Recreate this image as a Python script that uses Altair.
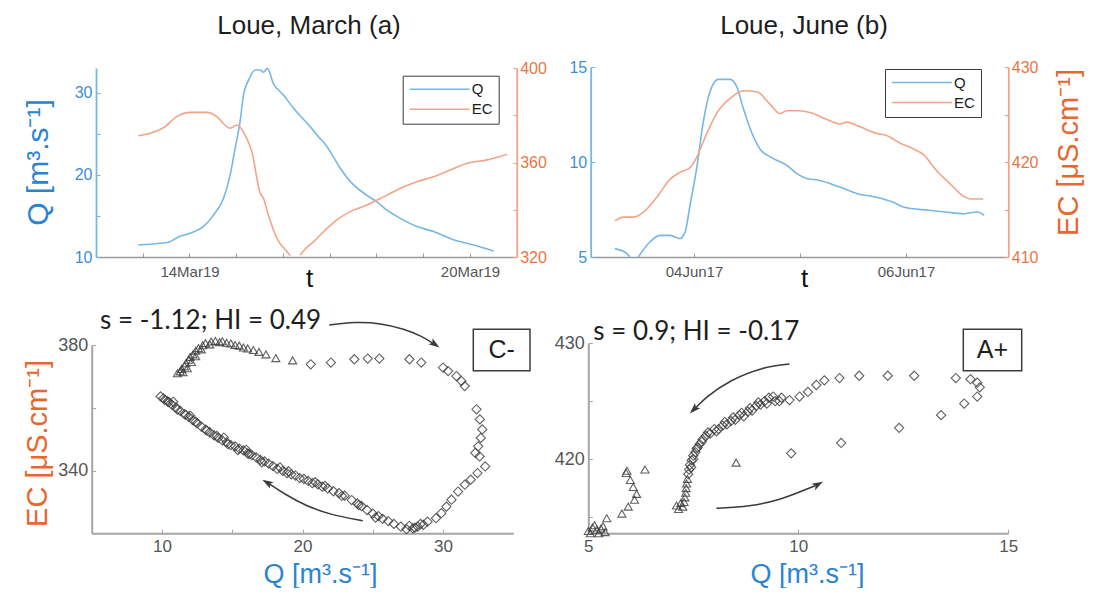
import altair as alt
import pandas as pd

# ------------------------------------------------------------------ texts
panel_titles = ["Loue, March (a)", "Loue, June (b)"]
series_names = ["Q", "EC"]
hyst_stats = ["s = -1.12; HI = 0.49", "s = 0.9; HI = -0.17"]
hyst_class = ["C-", "A+"]
q_title = "Q [m³.s⁻¹]"
ec_title = "EC [μS.cm⁻¹]"
t_title = "t"

# ------------------------------------------------------------------ March time series (hours after 12 Mar 2019 00:00)
mar_start = "2019-03-12 00:00"
mar_q_hours = [21.7, 32.9, 38.0, 41.5, 48.3, 55.1, 60.3, 65.4, 68.9, 71.4, 74.0, 75.7, 78.3, 81.7, 84.3, 86.0,
               88.0, 91.1, 96.3, 101.4, 104.8, 110.0, 115.1, 116.8, 120.3, 125.4, 130.5, 139.1, 144.3, 149.4,
               156.3, 164.8, 173.3, 183.6, 193.9, 204.2]
mar_q = [11.46, 11.67, 11.86, 12.35, 12.9, 13.7, 15.1, 17.1, 20.0, 23.2, 26.5, 29.7, 31.5, 32.75, 32.75, 32.5,
         32.95, 31.1, 29.7, 28.1, 27.2, 25.85, 24.4, 24.0, 22.8, 20.8, 19.2, 17.5, 16.7, 15.7,
         14.7, 13.7, 13.1, 12.1, 11.46, 10.73]
mar_ec_hours = [21.7, 27.8, 34.6, 41.5, 48.3, 56.9, 62.0, 67.2, 68.9, 72.3, 77.4, 80.0, 84.3, 86.0, 88.5, 92.9,
                98.0, 99.7,
                104.8, 107.5, 111.7, 118.6, 123.7, 130.5, 139.1, 149.4, 156.3, 164.8, 173.3, 181.9, 190.5,
                200.8, 211.1]
mar_ec = [371.3, 372.4, 374.7, 379.4, 381.2, 381.2, 379.4, 375.2, 374.5, 375.9, 370.2, 364.6, 347.0, 344.8,
          337.8, 327.9, 322.3, 320.6,
          320.8, 323.5, 326.5, 332.1, 335.7, 339.2, 342.0, 346.2, 349.1, 351.9, 354.0, 356.8, 359.7, 361.1, 363.5]
mar_ec_part = [1] * 18 + [2] * 15

# ------------------------------------------------------------------ June time series (hours after 3 Jun 2017 00:00)
jun_start = "2017-06-03 00:00"
jun_q_hours = [6.1, 8.8, 9.5, 11.4, 14.0, 16.3, 18.6, 20.8, 22.0, 23.1, 24.6, 26.1, 27.6, 29.5, 32.2, 33.7,
               35.2, 36.7, 38.9, 42.0, 45.0, 47.3, 49.5, 52.2, 57.0, 61.0, 65.0, 69.0, 71.4, 77.0, 80.9, 85.0,
               88.2, 89.7]
jun_q = [5.44, 5.18, 5.0, 5.0, 5.79, 6.14, 6.14, 5.97, 6.32, 7.72, 9.65, 12.1, 13.68, 14.35, 14.35, 13.95,
         12.8, 11.76, 10.7, 10.18, 9.83, 9.39, 9.13, 9.04, 8.68, 8.33, 8.16, 7.89, 7.63, 7.46, 7.37, 7.28,
         7.37, 7.19]
jun_q_part = [1] * 3 + [2] * 31
jun_ec_hours = [6.1, 8.0, 10.3, 12.5, 15.6, 18.6, 20.8, 23.1, 24.6, 26.9, 29.1, 32.2, 35.2, 38.2, 41.2, 43.5,
                45.0, 48.0, 50.3, 54.0, 57.0, 58.6, 61.6, 65.4, 67.6, 70.6, 73.6, 75.9, 78.9, 82.0, 85.0,
                86.5, 89.5]
jun_ec = [413.8, 414.2, 414.2, 414.7, 416.3, 418.2, 418.9, 419.4, 420.5, 423.0, 425.1, 426.7, 427.5, 427.4,
          426.1, 425.1, 425.4, 425.4, 425.2, 424.5, 424.0, 424.2, 423.7, 423.0, 422.8, 422.0, 421.4, 420.8,
          419.1, 417.7, 416.4, 416.1, 416.1]

# ------------------------------------------------------------------ March hysteresis (EC vs Q)
mar_tri_q = [11.1, 11.3, 11.5, 11.4, 11.6, 11.8, 11.7, 11.9, 12.1, 12.0, 12.2, 12.4, 12.4, 12.6, 12.8, 12.9,
             13.1, 13.4, 13.5, 13.8, 14.1, 14.3, 14.6, 14.9, 15.2, 15.5, 15.8, 16.1, 16.5, 16.9, 17.4, 18.1,
             19.3]
mar_tri_ec = [371.0, 371.6, 371.3, 372.4, 373.2, 372.6, 374.2, 375.3, 374.6, 376.2, 377.0, 376.4, 378.2,
              379.0, 378.6, 379.9, 380.6, 380.2, 381.1, 381.3, 380.9, 381.2, 380.7, 380.5, 380.0, 379.8, 379.2,
              378.9, 378.4, 377.8, 377.0, 375.8, 375.1]
mar_dia_q = [20.59, 22.02, 23.69, 24.64, 25.47, 27.61, 28.45, 30.0, 30.36, 30.95, 31.31, 31.54,
             32.38, 32.62, 32.79, 32.69, 32.5, 32.3, 32.6, 33.0, 32.45, 31.97, 31.55, 31.07, 30.6, 30.24,
             29.88, 29.5, 28.9, 28.6, 28.2, 27.86, 27.4, 27.0, 28.0, 27.6, 28.4,
             26.5, 26.1, 25.7, 25.4, 25.0, 24.6, 24.2, 23.9, 23.5, 23.0, 22.6, 22.2, 21.8, 21.4, 21.1, 20.7,
             20.4, 20.1, 19.8, 19.5, 19.2, 18.9, 18.6, 18.2, 17.9, 17.6, 17.3, 17.0, 16.7, 16.4, 16.1, 15.8,
             15.5, 15.2, 14.9, 14.6, 14.3, 14.0, 13.7, 13.4, 13.1, 12.8, 12.5, 12.2, 11.9, 11.6, 11.3, 11.0,
             10.7, 10.4, 10.1, 9.9,
             25.2, 24.0, 22.8, 21.6, 20.9, 19.0, 18.4, 17.1, 16.2, 15.4, 14.7, 13.9, 13.2, 12.4, 11.7, 11.1,
             10.5, 10.2, 14.4, 16.0, 12.0, 10.8]
mar_dia_ec = [373.86, 374.4, 375.46, 375.68, 375.68, 375.46, 374.4, 372.8, 371.7, 370.1, 368.5, 366.9,
              359.5, 356.3, 353.1, 350.4, 347.7, 345.6, 344.5, 341.3, 339.2, 337.1, 335.5, 333.3, 330.7, 328.5,
              326.4, 324.8, 323.7, 322.7, 322.1, 321.6, 321.3, 322.1, 321.8, 322.4, 323.0,
              323.0, 323.9, 324.6, 325.5, 326.3, 327.4, 328.7, 329.5, 330.6, 332.0, 332.8, 333.4, 334.3, 334.9,
              335.6, 336.0, 336.7, 337.3, 337.6, 338.4, 338.8, 339.2, 339.9, 340.5, 341.4, 342.2, 342.9, 343.4,
              344.2, 344.9, 345.5, 346.4, 347.0, 347.7, 348.1, 349.0, 349.6, 350.4, 351.2, 352.2, 353.0, 354.0,
              355.0, 356.0, 357.1, 358.0, 359.0, 360.1, 361.0, 362.0, 363.0, 363.6,
              325.0, 329.0, 331.9, 335.1, 336.3, 339.8, 341.0, 342.6, 345.2, 346.5, 348.4, 351.0, 352.7, 355.6,
              357.7, 359.4, 361.8, 362.5, 350.5, 346.6, 357.5, 361.9]

# ------------------------------------------------------------------ June hysteresis (EC vs Q)
jun_tri_q = [5.0, 5.1, 5.05, 5.2, 5.15, 5.3, 5.25, 5.4, 5.35, 5.44, 5.8, 5.95, 6.1, 6.15, 6.07, 6.0, 5.9, 5.92,
             6.35, 8.52, 7.36, 7.34, 7.33, 7.32, 7.3, 7.28, 7.25, 7.15, 7.1, 7.2]
jun_tri_ec = [413.8, 414.1, 413.6, 413.9, 414.3, 414.0, 413.6, 413.7, 414.2, 414.9, 415.3, 415.9, 416.5, 417.0,
              417.6, 418.2, 418.8, 419.0, 419.1, 419.7, 418.3, 417.9, 417.5, 417.1, 416.7, 416.3, 415.9, 415.7,
              416.0, 416.2]
jun_dia_q = [9.83, 11.02, 12.4, 13.4, 13.95, 14.26, 14.32, 14.26, 14.1, 13.75, 12.76, 12.13, 11.45, 10.98,
             10.62, 10.43, 10.23, 10.03, 9.79, 9.6, 9.45, 9.3, 9.2, 9.1, 9.0, 8.9, 8.8, 8.7, 8.6, 8.5, 8.4, 8.3,
             8.2, 8.1, 8.0, 7.9, 7.8, 7.72, 7.65, 7.6, 7.55, 7.5, 7.46, 7.42, 7.4, 7.38,
             7.45, 7.5, 7.58, 7.7, 7.85, 8.05, 8.25, 8.45, 8.65, 8.85, 9.05, 9.25, 9.4, 9.55]
jun_dia_ec = [420.5, 421.4, 422.7, 423.8, 424.8, 425.4, 426.2, 426.6, 426.9, 427.0, 427.2, 427.2, 427.2, 427.0,
              426.8, 426.4, 425.8, 425.4, 425.1, 425.3, 425.0, 425.3, 425.0, 424.7, 424.6, 424.2, 424.1, 423.7,
              423.8, 423.4, 423.3, 423.0, 422.9, 422.6, 422.6, 422.2, 422.0, 421.7, 421.3, 421.0, 420.6, 420.3,
              419.9, 419.5, 419.1, 418.7,
              419.3, 420.0, 420.9, 421.5, 422.3, 422.4, 423.2, 423.6, 424.0, 424.4, 424.9, 424.8, 425.4, 425.0]

# ------------------------------------------------------------------ loop-direction arrows (data coordinates)
mar_arrow_id = [0, 0, 0, 0, 0, 0, 1, 1, 1, 1, 1]
mar_arrow_q = [21.90, 23.69, 25.59, 27.26, 28.45, 29.40, 24.29, 22.02, 20.24, 18.81, 17.60]
mar_arrow_ec = [386.34, 387.39, 386.98, 385.06, 382.91, 380.26, 324.03, 325.86, 328.74, 332.26, 335.90]
mar_head_q = [29.39, 17.52]
mar_head_ec = [380.3, 336.06]
mar_head_angle = [125, 300]

jun_arrow_id = [0, 0, 0, 0, 0, 1, 1, 1, 1, 1]
jun_arrow_q = [9.79, 9.16, 8.37, 7.81, 7.55, 8.05, 8.84, 9.55, 10.14, 10.40]
jun_arrow_ec = [428.21, 427.96, 426.82, 425.38, 424.40, 415.76, 415.91, 416.47, 417.33, 417.70]
jun_head_q = [7.52, 10.46]
jun_head_ec = [424.32, 417.8]
jun_head_angle = [225, 61]

# ------------------------------------------------------------------ styling / layout
Q_LINE = "#78b6e3"
EC_LINE = "#f2a488"
Q_TXT = "#3b8fd4"
EC_TXT = "#ea7644"
Q_TITLE = "#2b84cf"
EC_TITLE = "#e8672f"
AX_GRAY = "#9a9a9a"
LAB_GRAY = "#555555"
MARK_GRAY = "#3a3a3a"
ARROW = "#3a3a3a"
FONT = "Liberation Sans"
ARROW_SHAPE = "M0,-1L0.6,0.8L0,0.4L-0.6,0.8Z"

W, H = 1077, 580
TL = dict(x0=88, x1=508.7, y0=249, y1=60)
TR = dict(x0=582.7, x1=1000.3, y0=249, y1=59)
BL = dict(x0=83.7, x1=505.3, y0=525.3, y1=337)
BR = dict(x0=580.3, x1=1000.3, y0=525.3, y1=335.3)


def series_df(start, hours, values, name, part=None):
    t = pd.Timestamp(start) + pd.to_timedelta(hours, unit="h")
    d = pd.DataFrame({"t": t, "v": values, "series": name})
    d["part"] = part if part is not None else [1] * len(values)
    return d


def axis(orient, pos, **kw):
    if orient == "bottom":
        off = pos - H
    elif orient == "top":
        off = -pos
    elif orient == "left":
        off = -pos
    else:
        off = pos - W
    base = dict(orient=orient, offset=off, grid=False, labelFont=FONT, titleFont=FONT,
                titleFontWeight="normal", labelFlush=False)
    base.update(kw)
    return alt.Axis(**base)


def tick_axis(orient, pos, values, color):
    return axis(orient, pos, values=values, labels=False, domain=False, ticks=True, tickSize=4,
                tickColor=color, tickWidth=1, title=None)


def lab_expr(vals):
    return "indexof(%s, datum.value) >= 0 ? datum.label : ''" % str(vals)


def text_layer(text, x, y, size, font, color, align="center"):
    return alt.Chart(pd.DataFrame({"label": [text]})).mark_text(
        fontSize=size, font=font, color=color, align=align, baseline="middle"
    ).encode(x=alt.value(x), y=alt.value(y), text="label:N")


def box_layer(x0, x1, y0, y1):
    return alt.Chart(pd.DataFrame({"k": [0]})).mark_rect(
        fill="white", stroke="#3c3c3c", strokeWidth=1.5
    ).encode(x=alt.value(x0), x2=alt.value(x1), y=alt.value(y0), y2=alt.value(y1))


def top_panel(geo, xdom, xticks, lab_days, df_q, df_ec, qdom, qticks, qlabs, edom, eticks, elabs,
              leg_xy, t_x, q_axis_title, ec_axis_title):
    xs = alt.Scale(domain=xdom, range=[geo["x0"], geo["x1"]], nice=False)
    qs = alt.Scale(domain=qdom, range=[geo["y0"], geo["y1"]], nice=False, zero=False)
    es = alt.Scale(domain=edom, range=[geo["y0"], geo["y1"]], nice=False, zero=False)
    col = alt.Scale(domain=series_names, range=[Q_LINE, EC_LINE])
    leg = alt.Legend(orient="none", legendX=leg_xy[0], legendY=leg_xy[1], title=None, symbolType="stroke",
                     symbolSize=3600, symbolStrokeWidth=1.6, clipHeight=15, rowPadding=4, labelOffset=1,
                     labelFont=FONT, labelFontSize=15, labelColor="#1a1a1a", padding=6,
                     strokeColor="#3a3a3a", fillColor="white")
    x_lab = axis("bottom", geo["y0"], values=xticks,
                 labelExpr="indexof(%s, date(datum.value)) >= 0 ? timeFormat(datum.value, '%%d%%b%%y') : ''"
                 % str(lab_days),
                 tickSize=0, domainColor=AX_GRAY, domainWidth=1.5, labelColor=LAB_GRAY, labelFontSize=15,
                 labelPadding=7, title=t_title, titleX=t_x, titleY=21, titleFontSize=26, titleColor="#111",
                 titleBaseline="middle", titleAlign="center")
    q_kw = dict(values=qticks, labelExpr=lab_expr(qlabs), tickSize=0, domainColor=Q_LINE, domainWidth=1.8,
                labelColor=Q_TXT, labelFontSize=16, labelPadding=4)
    if q_axis_title is not None:
        q_kw.update(title=q_title, titleX=q_axis_title[0] - geo["x0"], titleY=q_axis_title[1], titleAngle=270,
                    titleFontSize=30, titleColor=Q_TITLE, titleBaseline="middle", titleAlign="center")
    else:
        q_kw.update(title=None)
    e_kw = dict(values=eticks, labelExpr=lab_expr(elabs), tickSize=0, domainColor=EC_LINE, domainWidth=1.8,
                labelColor=EC_TXT, labelFontSize=16, labelPadding=3)
    if ec_axis_title is not None:
        e_kw.update(title=ec_title, titleX=ec_axis_title[0] - geo["x1"], titleY=ec_axis_title[1],
                    titleAngle=270, titleFontSize=29, titleColor=EC_TITLE, titleBaseline="middle",
                    titleAlign="center")
    else:
        e_kw.update(title=None)

    q_line = alt.Chart(df_q).mark_line(strokeWidth=1.6, interpolate="monotone").encode(
        x=alt.X("t:T", scale=xs, axis=x_lab),
        y=alt.Y("v:Q", scale=qs, axis=axis("left", geo["x0"], **q_kw)),
        color=alt.Color("series:N", scale=col, legend=leg),
        detail="part:N")
    ec_line = alt.Chart(df_ec).mark_line(strokeWidth=1.6, interpolate="monotone").encode(
        x=alt.X("t:T", scale=xs, axis=tick_axis("top", geo["y0"], xticks, AX_GRAY)),
        y=alt.Y("v:Q", scale=es, axis=axis("right", geo["x1"], **e_kw)),
        color=alt.Color("series:N", scale=col, legend=None),
        detail="part:N")
    q_ticks = alt.Chart(df_q).mark_line(opacity=0).encode(
        x=alt.X("t:T", scale=xs, axis=None),
        y=alt.Y("v:Q", scale=qs, axis=tick_axis("right", geo["x0"], qticks, Q_LINE)))
    e_ticks = alt.Chart(df_ec).mark_line(opacity=0).encode(
        x=alt.X("t:T", scale=xs, axis=None),
        y=alt.Y("v:Q", scale=es, axis=tick_axis("left", geo["x1"], eticks, EC_LINE)))
    return [q_ticks, e_ticks, q_line, ec_line]


def bottom_panel(geo, qdom, qticks, qlabs, edom, eticks, elabs, tri, dia, arrows, heads, x_title_x,
                 y_title):
    xs = alt.Scale(domain=qdom, range=[geo["x0"], geo["x1"]], nice=False, zero=False)
    ys = alt.Scale(domain=edom, range=[geo["y0"], geo["y1"]], nice=False, zero=False)
    x_ax = axis("bottom", geo["y0"], values=qticks, labelExpr=lab_expr(qlabs), tickSize=0, domainColor="#a5a5a5",
                domainWidth=2, labelColor=LAB_GRAY, labelFontSize=17, labelPadding=5, title=q_title,
                titleX=x_title_x, titleY=41, titleFontSize=27, titleColor=Q_TITLE, titleBaseline="middle",
                titleAlign="center")
    y_kw = dict(values=eticks, labelExpr=lab_expr(elabs), tickSize=0, domainColor="#a5a5a5", domainWidth=2,
                labelColor=LAB_GRAY, labelFontSize=18, labelPadding=4)
    if y_title is not None:
        y_kw.update(title=ec_title, titleX=y_title[0] - geo["x0"], titleY=y_title[1], titleAngle=270,
                    titleFontSize=29, titleColor=EC_TITLE, titleBaseline="middle", titleAlign="center")
    else:
        y_kw.update(title=None)
    dia_l = alt.Chart(dia).mark_point(shape="diamond", filled=False, color=MARK_GRAY, strokeWidth=1.1,
                                      size=85, opacity=0.8).encode(
        x=alt.X("q:Q", scale=xs, axis=x_ax),
        y=alt.Y("ec:Q", scale=ys, axis=axis("left", geo["x0"], **y_kw)))
    tri_l = alt.Chart(tri).mark_point(shape="triangle-up", filled=False, color=MARK_GRAY, strokeWidth=1.1,
                                      size=65, opacity=0.8).encode(
        x=alt.X("q:Q", scale=xs, axis=tick_axis("top", geo["y0"], qticks, "#a5a5a5")),
        y=alt.Y("ec:Q", scale=ys, axis=tick_axis("right", geo["x0"], eticks, "#a5a5a5")))
    arr_l = alt.Chart(arrows).mark_line(color=ARROW, strokeWidth=1.5, interpolate="basis").encode(
        x=alt.X("q:Q", scale=xs, axis=None),
        y=alt.Y("ec:Q", scale=ys, axis=None),
        detail="id:N", order="k:Q")
    head_l = alt.Chart(heads).mark_point(shape=ARROW_SHAPE, filled=True, color=ARROW, size=150,
                                         opacity=1).encode(
        x=alt.X("q:Q", scale=xs, axis=None),
        y=alt.Y("ec:Q", scale=ys, axis=None),
        angle=alt.Angle("a:Q", scale=None))
    return [dia_l, tri_l, arr_l, head_l]


# ---------------------------------------------------------------- build data frames
df_mq = series_df(mar_start, mar_q_hours, mar_q, "Q")
df_me = series_df(mar_start, mar_ec_hours, mar_ec, "EC", mar_ec_part)
df_jq = series_df(jun_start, jun_q_hours, jun_q, "Q", jun_q_part)
df_je = series_df(jun_start, jun_ec_hours, jun_ec, "EC")

mar_days = [alt.DateTime(year=2019, month=3, date=d) for d in range(13, 21)]
jun_days = [alt.DateTime(year=2017, month=6, date=d) for d in range(4, 7)]

layers = []
layers += top_panel(TL, [alt.DateTime(year=2019, month=3, date=12), alt.DateTime(year=2019, month=3, date=21)],
                    mar_days, [14, 20], df_mq, df_me, [10, 33], [10, 15, 20, 25, 30], [10, 20, 30],
                    [320, 400], [320, 340, 360, 380, 400], [320, 360, 400], (394.7, 67.7), 301,
                    (30, 154), None)
layers += top_panel(TR, [alt.DateTime(year=2017, month=6, date=3, hours=0, minutes=37),
                         alt.DateTime(year=2017, month=6, date=6, hours=23, minutes=10)],
                    jun_days, [4, 6], df_jq, df_je, [5, 15], [5, 10, 15], [5, 10, 15],
                    [410, 430], [410, 415, 420, 425, 430], [410, 420, 430], (877, 61), 796,
                    None, (1060, 144))

layers += bottom_panel(BL, [5, 35], [10, 15, 20, 25, 30], [10, 20, 30], [320, 380], [320, 340, 360, 380],
                       [340, 380],
                       pd.DataFrame({"q": mar_tri_q, "ec": mar_tri_ec}),
                       pd.DataFrame({"q": mar_dia_q, "ec": mar_dia_ec}),
                       pd.DataFrame({"id": mar_arrow_id, "k": list(range(len(mar_arrow_q))),
                                     "q": mar_arrow_q, "ec": mar_arrow_ec}),
                       pd.DataFrame({"q": mar_head_q, "ec": mar_head_ec, "a": mar_head_angle}),
                       312, (30, 435))
layers += bottom_panel(BR, [5, 15], [5, 10, 15], [5, 10, 15], [413.6, 430], [415, 420, 425, 430],
                       [420, 430],
                       pd.DataFrame({"q": jun_tri_q, "ec": jun_tri_ec}),
                       pd.DataFrame({"q": jun_dia_q, "ec": jun_dia_ec}),
                       pd.DataFrame({"id": jun_arrow_id, "k": list(range(len(jun_arrow_q))),
                                     "q": jun_arrow_q, "ec": jun_arrow_ec}),
                       pd.DataFrame({"q": jun_head_q, "ec": jun_head_ec, "a": jun_head_angle}),
                       799, None)

# titles and annotations
layers.append(text_layer(panel_titles[0], 301, 18, 26, FONT, "#1e1e1e"))
layers.append(text_layer(panel_titles[1], 796, 18, 26, FONT, "#1e1e1e"))
layers.append(text_layer(hyst_stats[0], 92, 313, 26, "Lato", "#1e1e1e", align="left"))
layers.append(text_layer(hyst_stats[1], 585.3, 323.5, 26, "Lato", "#1e1e1e", align="left"))
layers.append(box_layer(465.3, 522, 321.3, 362.7))
layers.append(text_layer(hyst_class[0], 493.7, 342, 25, FONT, "#1e1e1e"))
layers.append(box_layer(955.3, 1013.7, 321.3, 362.7))
layers.append(text_layer(hyst_class[1], 984.5, 342, 25, FONT, "#1e1e1e"))

chart = alt.layer(*layers).resolve_scale(
    x="independent", y="independent", color="independent"
).properties(
    width=W, height=H, padding=0, autosize=alt.AutoSizeParams(type="none")
).configure(font=FONT, background="white").configure_view(stroke=None)

chart.save("out.html", embed_options={"renderer": "svg", "actions": False})
